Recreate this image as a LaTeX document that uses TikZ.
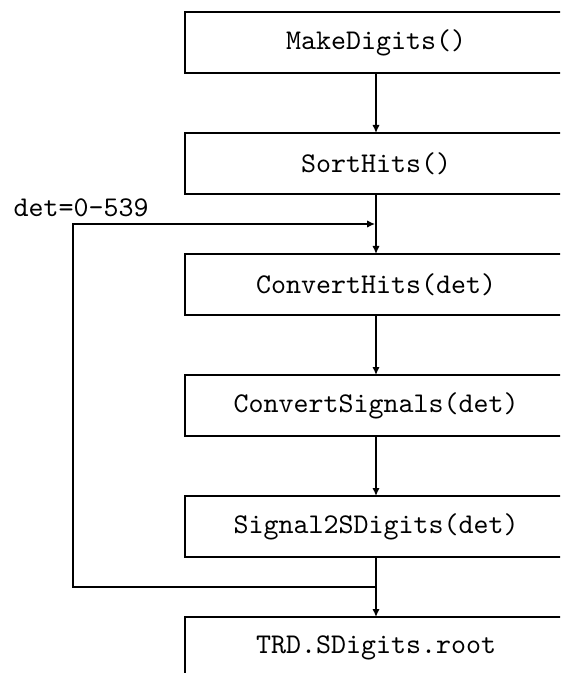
\documentclass[tikz,border=0pt]{standalone}
\usetikzlibrary{arrows.meta}
\begin{document}
\begin{tikzpicture}[x=0.35pt,y=-0.35pt,
  procbox/.style={draw,line width=0.9pt,minimum width=133.7pt,minimum height=21.35pt,inner sep=0pt,outer sep=0pt,font=\ttfamily},
  flow/.style={line width=0.65pt,-{Latex[length=2.8pt,width=2.6pt]}}]
\useasboundingbox (0,0) rectangle (560,673);
\clip (0,0) rectangle (560,673);
\node[procbox] (b1) at (376,42.5) {MakeDigits()};
\node[procbox] (b2) at (376,163.5) {SortHits()};
\node[procbox] (b3) at (376,284.5) {ConvertHits(det)};
\node[procbox] (b4) at (376,405.5) {ConvertSignals(det)};
\node[procbox] (b5) at (376,526.5) {Signal2SDigits(det)};
\node[procbox] (b6) at (376,647.5) {TRD.SDigits.root};
\coordinate (jtop) at (376,224);
\coordinate (jbot) at (376,587);
\coordinate (lb) at (73,587);
\coordinate (lt) at (73,224);
\draw[flow] (b1.south) -- (b2.north);
\draw[flow] (b2.south) -- (b3.north);
\draw[flow] (b3.south) -- (b4.north);
\draw[flow] (b4.south) -- (b5.north);
\draw[flow] (b5.south) -- (b6.north);
\draw[flow] (jbot) -- (lb) -- (lt) -- ([xshift=-0.3pt]jtop);
\node[anchor=base west,inner sep=0pt,font=\ttfamily] (lbl) at (13,217) {det=0-539};
\end{tikzpicture}
\end{document}
